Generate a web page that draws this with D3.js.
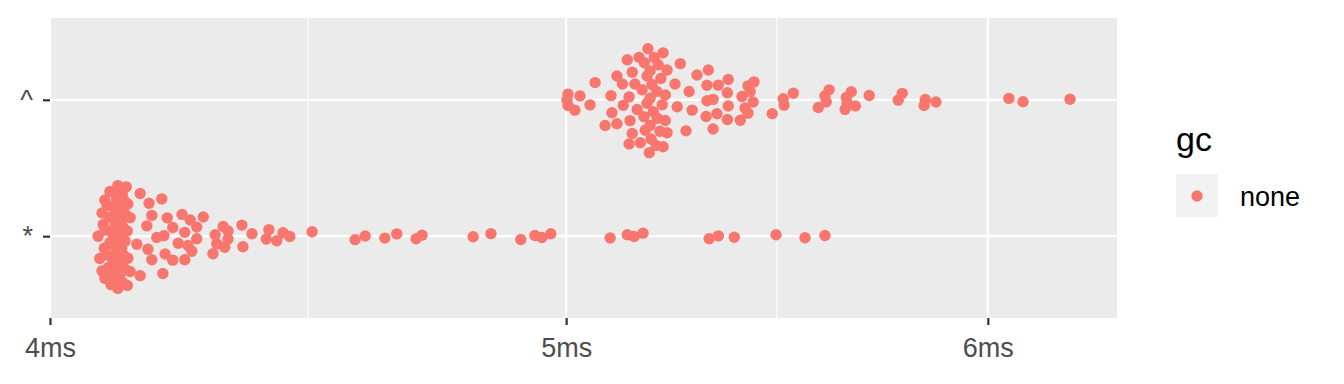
<!DOCTYPE html>
<html>
<head>
<meta charset="utf-8">
<script src="https://cdn.jsdelivr.net/npm/d3@7"></script>
<style>
  body { margin: 0; background: #fff; }
  text { font-family: "Liberation Sans", Arial, sans-serif; }
</style>
</head>
<body>
<div id="chart"></div>
<script>
// categories (bottom to top) and the timings, in ms
let groups = ['*', '^'];

let starTimes = [
    4.084, 4.087, 4.091, 4.091, 4.093, 4.095, 4.096, 4.096, 4.096, 4.098,
    4.100, 4.102, 4.104, 4.105, 4.105, 4.107, 4.109, 4.109, 4.110, 4.111,
    4.112, 4.113, 4.114, 4.114, 4.114, 4.116, 4.117, 4.118, 4.118, 4.119,
    4.119, 4.119, 4.120, 4.121, 4.122, 4.123, 4.125, 4.126, 4.127, 4.127,
    4.129, 4.129, 4.130, 4.131, 4.132, 4.132, 4.134, 4.136, 4.136, 4.137,
    4.137, 4.141, 4.141,
    4.153, 4.159, 4.159, 4.171, 4.173, 4.175, 4.180, 4.180, 4.189, 4.198,
    4.200, 4.202, 4.204, 4.208, 4.218, 4.218, 4.228, 4.235, 4.240, 4.240,
    4.246, 4.250, 4.253, 4.262, 4.262, 4.274, 4.292, 4.296, 4.299, 4.311,
    4.314, 4.320, 4.320, 4.346, 4.348, 4.365, 4.392, 4.397, 4.412, 4.424,
    4.437, 4.480,
    4.564, 4.584, 4.623, 4.647, 4.686, 4.698, 4.803, 4.840, 4.903, 4.933,
    4.948, 4.967, 5.096, 5.134, 5.149, 5.169, 5.319, 5.340, 5.377, 5.475,
    5.544, 5.592
];

let caretTimes = [
    5.002, 5.004, 5.004, 5.019, 5.030, 5.052, 5.063, 5.085, 5.098, 5.100,
    5.111, 5.111, 5.123, 5.125, 5.134, 5.138, 5.138, 5.140, 5.145, 5.145,
    5.151, 5.156, 5.160, 5.163, 5.167, 5.171, 5.174, 5.178, 5.178, 5.183,
    5.185, 5.185, 5.189, 5.185, 5.192, 5.198, 5.201, 5.203, 5.207, 5.212,
    5.214, 5.214, 5.219, 5.219, 5.223, 5.223, 5.241, 5.246, 5.253, 5.266,
    5.273, 5.280, 5.291, 5.312, 5.314, 5.314, 5.317, 5.328, 5.328, 5.337,
    5.340, 5.361, 5.363, 5.363, 5.361, 5.391, 5.395, 5.402, 5.409, 5.409,
    5.414, 5.421, 5.423, 5.466, 5.492, 5.494, 5.516, 5.576, 5.592, 5.595,
    5.602, 5.641, 5.644, 5.646, 5.656, 5.666, 5.700, 5.772, 5.782, 5.837,
    5.840, 5.867, 6.055, 6.092, 6.217,
    5.172, 5.180, 5.187, 5.194, 5.200, 5.209
];

let xTicks = [4, 5, 6];
let xMinor = [Math.sqrt(20), Math.sqrt(30)];
let legendTitle = 'gc';
let legendLabel = 'none';

// page / panel geometry
let svgWidth = 1344;
let svgHeight = 384;
let margin = { top: 18, right: 227, bottom: 66, left: 50 };
let width = svgWidth - margin.left - margin.right;
let height = svgHeight - margin.top - margin.bottom;

let pointColor = '#F8766D';
let pointR = 5.7;
let jitterWidth = 0.4;   // quasirandom half width, in category units

let svg = d3.select('#chart')
    .append('svg')
    .attr('width', svgWidth)
    .attr('height', svgHeight);

let chartGroup = svg.append('g')
    .attr('transform', `translate(${margin.left}, ${margin.top})`);

// log x scale, 4ms sits on the left edge of the panel
let xScale = d3.scaleLog()
    .domain([4, 4 * Math.exp(width / 2313)])
    .range([0, width]);

// discrete y with ggplot style expansion (0.6 units each side)
let yScale = d3.scaleLinear()
    .domain([0.4, groups.length + 0.6])
    .range([height, 0]);

chartGroup.append('rect')
    .attr('width', width)
    .attr('height', height)
    .attr('fill', '#EBEBEB');

// grid
chartGroup.selectAll('.minor')
    .data(xMinor)
    .enter()
    .append('line')
    .attr('x1', d => xScale(d))
    .attr('x2', d => xScale(d))
    .attr('y1', 0)
    .attr('y2', height)
    .attr('stroke', '#fff')
    .attr('stroke-width', 1.1);

chartGroup.selectAll('.majorx')
    .data(xTicks.filter(d => xScale(d) <= width))
    .enter()
    .append('line')
    .attr('x1', d => xScale(d))
    .attr('x2', d => xScale(d))
    .attr('y1', 0)
    .attr('y2', height)
    .attr('stroke', '#fff')
    .attr('stroke-width', 2.2);

chartGroup.selectAll('.majory')
    .data(groups)
    .enter()
    .append('line')
    .attr('x1', 0)
    .attr('x2', width)
    .attr('y1', (d, i) => yScale(i + 1))
    .attr('y2', (d, i) => yScale(i + 1))
    .attr('stroke', '#fff')
    .attr('stroke-width', 2.2);

// van der Corput sequence, base 2
function vdc(k) {
    let out = 0, f = 0.5;
    while (k > 0) {
        out += f * (k % 2);
        k = Math.floor(k / 2);
        f /= 2;
    }
    return out;
}

// quasirandom offsets (like vipor): density in log space times a van der Corput spread
function quasirandom(values) {
    let t = values.map(Math.log10);
    let sorted = t.slice().sort((a, b) => a - b);
    let n = t.length;
    let iqr = d3.quantile(sorted, 0.75) - d3.quantile(sorted, 0.25);
    let bw = 0.9 * Math.min(d3.deviation(t), iqr / 1.34) * Math.pow(n, -0.2);
    let dens = x => d3.sum(t, ti => Math.exp(-0.5 * Math.pow((x - ti) / bw, 2)));
    let lo = sorted[0] - 3 * bw, hi = sorted[n - 1] + 3 * bw;
    let maxD = d3.max(d3.range(1024), i => dens(lo + (hi - lo) * i / 1023));
    let order = d3.range(n).sort((a, b) => t[a] - t[b] || a - b);
    let rank = new Array(n);
    order.forEach((idx, r) => { rank[idx] = r + 1; });
    return values.map((v, i) => ({
        v: v,
        off: (vdc(rank[i]) - 0.5) * 2 * dens(t[i]) / maxD
    }));
}

let series = [
    { group: '*', values: starTimes },
    { group: '^', values: caretTimes }
];

series.forEach(s => {
    let base = groups.indexOf(s.group) + 1;
    chartGroup.append('g')
        .selectAll('circle')
        .data(quasirandom(s.values))
        .enter()
        .append('circle')
        .attr('cx', d => xScale(d.v))
        .attr('cy', d => yScale(base + d.off * jitterWidth))
        .attr('r', pointR)
        .attr('fill', pointColor);
});

// axes
let bottomAxis = d3.axisBottom(xScale)
    .tickValues(xTicks)
    .tickFormat(d => d + 'ms')
    .tickSize(7)
    .tickPadding(13);

let xAxis = chartGroup.append('g')
    .attr('transform', `translate(0, ${height})`)
    .call(bottomAxis);
xAxis.select('.domain').remove();
xAxis.selectAll('line').attr('stroke', '#333').attr('stroke-width', 2.2);
xAxis.selectAll('text')
    .attr('fill', '#4D4D4D')
    .style('font-size', '27px');

let leftAxis = d3.axisLeft(yScale)
    .tickValues(groups.map((g, i) => i + 1))
    .tickFormat(d => groups[d - 1])
    .tickSize(7)
    .tickPadding(10);

let yAxis = chartGroup.append('g').call(leftAxis);
yAxis.select('.domain').remove();
yAxis.selectAll('line').attr('stroke', '#333').attr('stroke-width', 2.2);
yAxis.selectAll('text')
    .attr('fill', '#4D4D4D')
    .style('font-size', '27px');

// legend
let legend = svg.append('g')
    .attr('transform', 'translate(1176, 0)');

legend.append('text')
    .attr('x', 0)
    .attr('y', 151)
    .style('font-size', '34px')
    .attr('fill', '#000')
    .text(legendTitle);

legend.append('rect')
    .attr('x', 0)
    .attr('y', 174)
    .attr('width', 42)
    .attr('height', 43)
    .attr('fill', '#F2F2F2');

legend.append('circle')
    .attr('cx', 21)
    .attr('cy', 196)
    .attr('r', pointR)
    .attr('fill', pointColor);

legend.append('text')
    .attr('x', 64)
    .attr('y', 206)
    .style('font-size', '27px')
    .attr('fill', '#000')
    .text(legendLabel);
</script>
</body>
</html>
